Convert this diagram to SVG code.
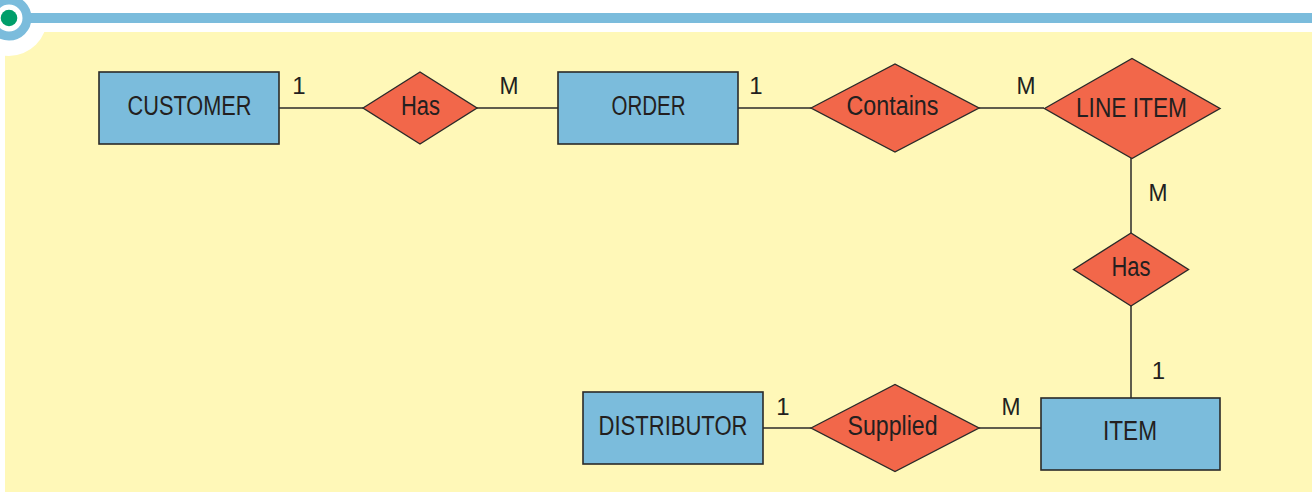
<svg xmlns="http://www.w3.org/2000/svg" width="1312" height="493" viewBox="0 0 1312 493">
  <style>
    .ent { fill: #7bbcdc; stroke: #2b2a29; stroke-width: 1.6; }
    .rel { fill: #f2674a; stroke: #2b2a29; stroke-width: 1.4; }
    .lbl { font-family: "Liberation Sans", Arial, sans-serif; font-size: 27px; fill: #231f20; text-anchor: middle; }
    .card { font-family: "Liberation Sans", Arial, sans-serif; font-size: 24px; fill: #231f20; text-anchor: middle; }
    .conn line { stroke: #2b2a29; stroke-width: 1.5; }
  </style>
  <!-- background / header -->
  <rect x="0" y="0" width="1312" height="493" fill="#ffffff"/>
  <rect x="5" y="32" width="1307" height="460" fill="#fff8b8"/>
  <circle cx="9" cy="18" r="38" fill="#ffffff"/>
  <rect x="24" y="13" width="1288" height="10" fill="#7bbcdc"/>
  <circle cx="9" cy="18" r="18" fill="none" stroke="#7bbcdc" stroke-width="9"/>
  <circle cx="9" cy="18" r="8.3" fill="#009e6a"/>

  <g id="connectors" class="conn">
    <line x1="279" y1="108" x2="363" y2="108"/>
    <line x1="477" y1="108" x2="558" y2="108"/>
    <line x1="738" y1="108" x2="811" y2="108"/>
    <line x1="979" y1="108" x2="1044" y2="108"/>
    <line x1="1131" y1="158" x2="1131" y2="233"/>
    <line x1="1131" y1="306" x2="1131" y2="398"/>
    <line x1="763" y1="428" x2="811" y2="428"/>
    <line x1="979" y1="428" x2="1041" y2="428"/>
  </g>

  <g id="cardinalities">
    <text class="card" x="299" y="94">1</text>
    <text class="card" x="509" y="94" textLength="19" lengthAdjust="spacingAndGlyphs">M</text>
    <text class="card" x="756" y="94">1</text>
    <text class="card" x="1026" y="94" textLength="19" lengthAdjust="spacingAndGlyphs">M</text>
    <text class="card" x="1158" y="201" textLength="19" lengthAdjust="spacingAndGlyphs">M</text>
    <text class="card" x="1158.5" y="379">1</text>
    <text class="card" x="783" y="415">1</text>
    <text class="card" x="1011" y="415" textLength="19" lengthAdjust="spacingAndGlyphs">M</text>
  </g>

  <g id="customer">
    <rect class="ent" x="99" y="72" width="180" height="72"/>
    <text class="lbl" x="189.5" y="115" textLength="124" lengthAdjust="spacingAndGlyphs">CUSTOMER</text>
  </g>
  <g id="has1">
    <polygon class="rel" points="363,108 420,72 477,108 420,144"/>
    <text class="lbl" x="420.5" y="114.5" textLength="39" lengthAdjust="spacingAndGlyphs">Has</text>
  </g>
  <g id="order">
    <rect class="ent" x="558" y="72" width="180" height="72"/>
    <text class="lbl" x="648.5" y="115" textLength="74" lengthAdjust="spacingAndGlyphs">ORDER</text>
  </g>
  <g id="contains">
    <polygon class="rel" points="811,108 895,64 979,108 895,152"/>
    <text class="lbl" x="892.5" y="114.5" textLength="92" lengthAdjust="spacingAndGlyphs">Contains</text>
  </g>
  <g id="lineitem">
    <polygon class="rel" points="1044.5,108.5 1132,58.5 1220,108.5 1132,158.5"/>
    <text class="lbl" x="1131.5" y="116.5" textLength="111" lengthAdjust="spacingAndGlyphs">LINE ITEM</text>
  </g>
  <g id="has2">
    <polygon class="rel" points="1073.5,269.5 1131,233 1188.5,269.5 1131,306"/>
    <text class="lbl" x="1131" y="276" textLength="39" lengthAdjust="spacingAndGlyphs">Has</text>
  </g>
  <g id="item">
    <rect class="ent" x="1041" y="398" width="179" height="72"/>
    <text class="lbl" x="1130" y="440" textLength="54" lengthAdjust="spacingAndGlyphs">ITEM</text>
  </g>
  <g id="distributor">
    <rect class="ent" x="583" y="392" width="180" height="72"/>
    <text class="lbl" x="673" y="435" textLength="149" lengthAdjust="spacingAndGlyphs">DISTRIBUTOR</text>
  </g>
  <g id="supplied">
    <polygon class="rel" points="811,428 895,384.5 979,428 895,471.5"/>
    <text class="lbl" x="892.5" y="435" textLength="90" lengthAdjust="spacingAndGlyphs">Supplied</text>
  </g>
</svg>
